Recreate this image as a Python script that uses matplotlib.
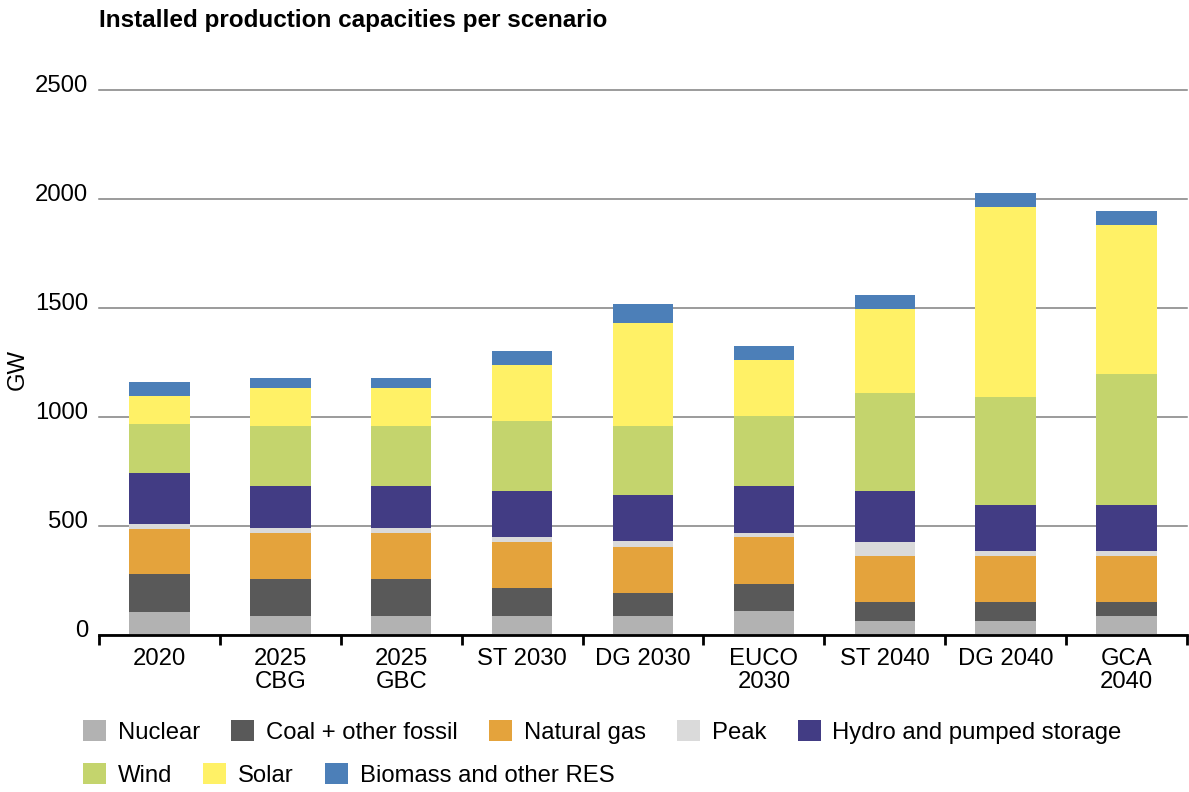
import numpy as np
import matplotlib
matplotlib.use("Agg")
import matplotlib.pyplot as plt
import matplotlib.transforms as mtransforms
from matplotlib.patches import Patch

plt.rcParams['font.family'] = ['Liberation Sans', 'DejaVu Sans']

# scenarios on the x axis
scenarios = ["2020", "2025\nCBG", "2025\nGBC", "ST 2030", "DG 2030",
             "EUCO\n2030", "ST 2040", "DG 2040", "GCA\n2040"]

# installed capacity in GW
nuclear = [103, 85, 85, 85, 85, 108, 62, 62, 85]
coal = [175, 170, 170, 128, 105, 124, 87, 87, 64]
gas = [205, 211, 211, 211, 211, 215, 211, 211, 211]
peak = [23, 23, 23, 23, 28, 19, 64, 23, 23]
hydro = [234, 193, 193, 211, 211, 215, 234, 211, 211]
wind = [224, 275, 275, 321, 316, 321, 450, 495, 600]
solar = [129, 175, 175, 257, 473, 257, 383, 872, 683]
biomass = [64, 46, 46, 64, 87, 64, 66, 64, 64]

series_names = ["Nuclear", "Coal + other fossil", "Natural gas", "Peak",
                "Hydro and pumped storage", "Wind", "Solar", "Biomass and other RES"]
series_values = [nuclear, coal, gas, peak, hydro, wind, solar, biomass]
colors = ["#b2b2b2", "#595959", "#e4a33c", "#dadada",
          "#423c84", "#c4d46d", "#fff166", "#4c7fb8"]

W, H = 1189, 792
fig = plt.figure(figsize=(W / 100, H / 100), dpi=100)
# axes box in pixels: left 99, right 1187, y=0 at 634.5, y=2500 at 89.5
ax = fig.add_axes([99 / W, (H - 634.5) / H, 1088 / W, 545 / H])

FS = 17.2
x = np.arange(len(scenarios))
bottom = np.zeros(len(scenarios))
for name, vals, col in zip(series_names, series_values, colors):
    ax.bar(x, vals, width=0.5, bottom=bottom, color=col, label=name, zorder=3)
    bottom += np.array(vals)

ax.set_xlim(-0.5, len(scenarios) - 0.5)
ax.set_ylim(0, 2500)
ax.set_yticks(np.arange(0, 2501, 500))
ax.yaxis.grid(True, color="#808080", linewidth=1.1, zorder=0)
for line in ax.get_ygridlines():
    line.set_clip_on(False)
ax.tick_params(axis='y', length=0, pad=8, labelsize=FS)

# category labels centred, tick marks between categories
ax.set_xticks(x)
ax.set_xticklabels(scenarios, fontsize=FS, linespacing=1.05)
ax.set_xticks(np.arange(-0.5, len(scenarios)), minor=True)
ax.tick_params(axis='x', which='major', length=0, pad=10)
ax.tick_params(axis='x', which='minor', length=7, width=2, direction='out')

for side in ['top', 'right', 'left']:
    ax.spines[side].set_visible(False)
ax.spines['bottom'].set_linewidth(2)
ax.spines['bottom'].set_zorder(4)

# y labels sit a bit above their gridline
shift = mtransforms.ScaledTranslation(0, 6 / 100, fig.dpi_scale_trans)
for lab in ax.get_yticklabels():
    lab.set_transform(lab.get_transform() + shift)

ax.set_ylabel("GW", fontsize=FS)
ax.yaxis.set_label_coords(-70 / 1088, (634.5 - 370) / 545)

fig.text(99 / W, 1 - 20 / H, "Installed production capacities per scenario",
         fontsize=17.5, fontweight='bold', va='center', ha='left')

handles = [Patch(facecolor=c, label=n) for n, c in zip(series_names, colors)]
px = FS * 100 / 72
leg_kw = dict(frameon=False, fontsize=FS, borderpad=0, borderaxespad=0,
              handlelength=23 / px, handleheight=23 / px, handletextpad=12 / px,
              columnspacing=31 / px, loc='center left')
leg1 = fig.legend(handles=handles[:5], ncol=5,
                  bbox_to_anchor=(83 / W, 1 - 732 / H), **leg_kw)
leg2 = fig.legend(handles=handles[5:], ncol=3,
                  bbox_to_anchor=(83 / W, 1 - 775 / H), **leg_kw)

fig.savefig("out.png", dpi=100)
